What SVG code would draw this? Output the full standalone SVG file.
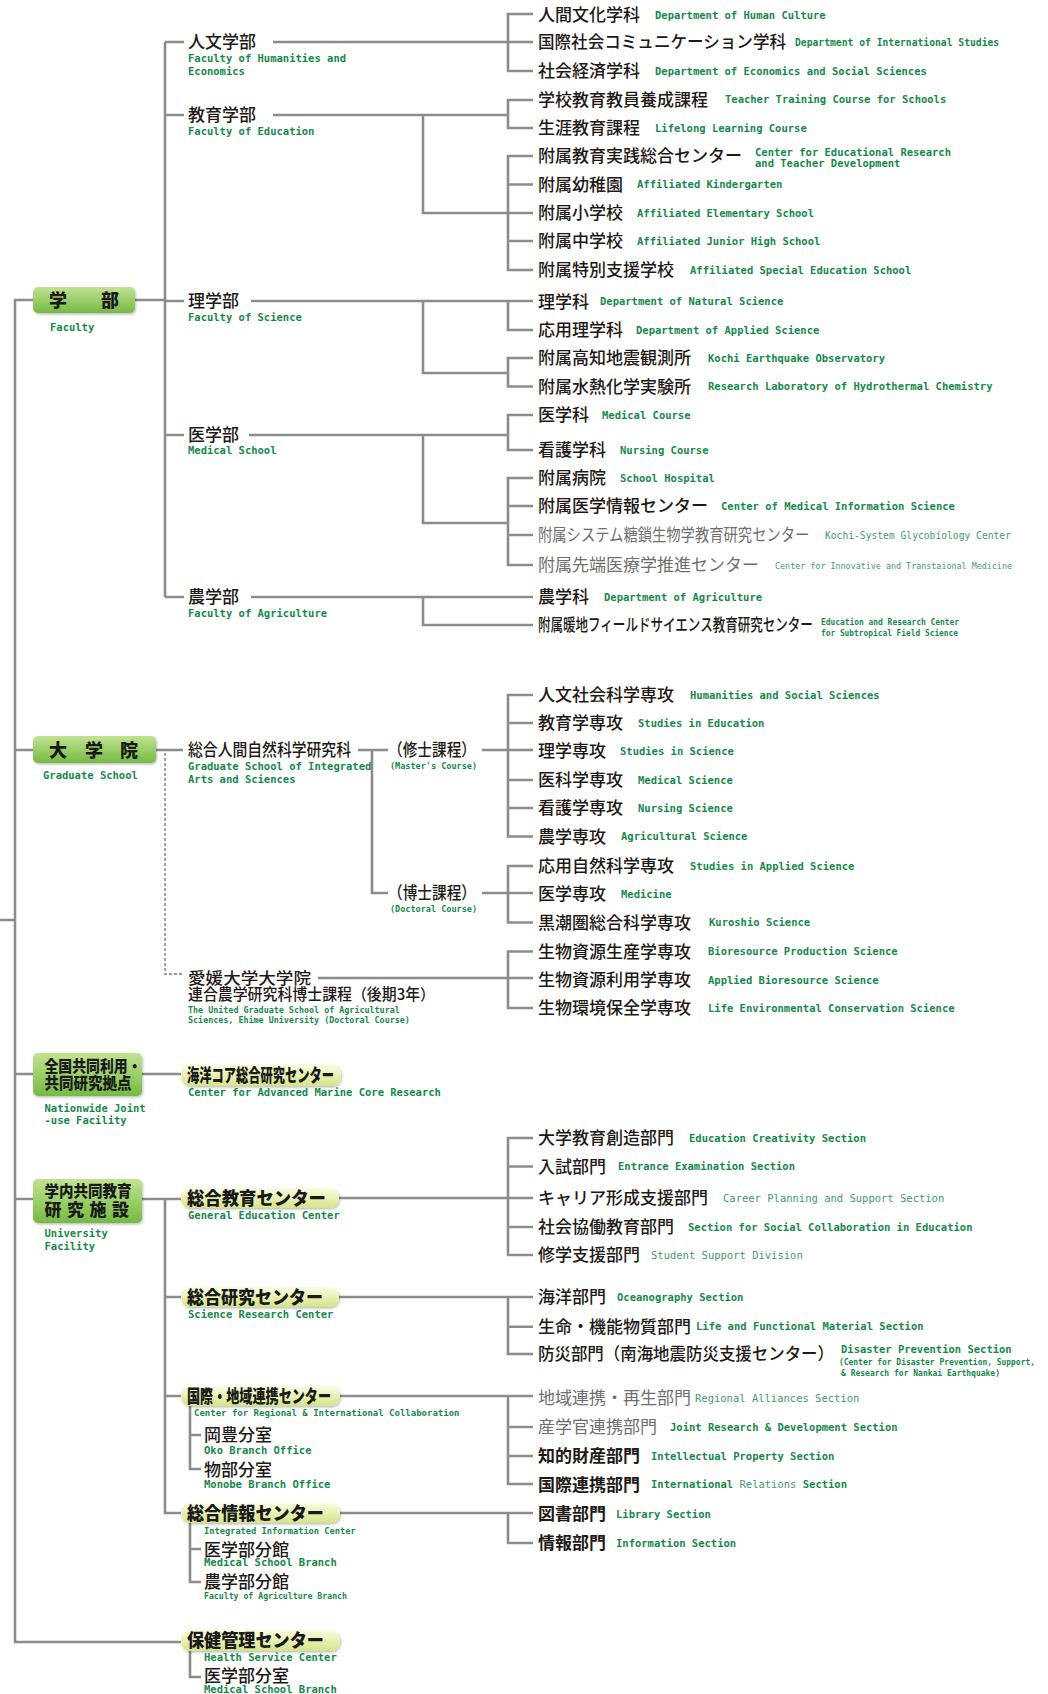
<svg xmlns="http://www.w3.org/2000/svg" width="1048" height="1694" viewBox="0 0 1048 1694">
<defs>
<linearGradient id="gg" x1="0" y1="0" x2="0" y2="1"><stop offset="0" stop-color="#c2e391"/><stop offset="1" stop-color="#74ba43"/></linearGradient>
<linearGradient id="pg" x1="0" y1="0" x2="0" y2="1"><stop offset="0" stop-color="#fbfce2"/><stop offset="1" stop-color="#d5e486"/></linearGradient>
<filter id="sh" x="-10%" y="-20%" width="120%" height="150%"><feDropShadow dx="1" dy="1.5" stdDeviation="1" flood-color="#000" flood-opacity="0.25"/></filter>
<style>
.ln{stroke:#8c8c8c;stroke-width:2.6;fill:none}
.dash{stroke:#9a9a9a;stroke-width:1.8;stroke-dasharray:3 2;fill:none}
.jp{font-family:"Noto Sans CJK JP","Noto Sans CJK SC",sans-serif;font-size:17px;fill:#231815;font-weight:500}
.jb{font-weight:700}
.jl{fill:#6e6e6e;font-weight:400}
.bx{font-family:"Noto Sans CJK JP",sans-serif;font-size:18px;fill:#1a1a1a;font-weight:900}
.en{font-family:"DejaVu Sans Mono","Liberation Mono",monospace;font-size:10.5px;font-weight:bold;fill:#16894c}
.el{font-weight:normal;fill:#3f9a6e}
.gbox{fill:url(#gg);filter:url(#sh)}
.pill{fill:url(#pg);filter:url(#sh)}
</style>
</defs>
<rect width="1048" height="1694" fill="#fff"/>

<g id="connectors">
<path class="ln" d="M0 920H15M33 300H15V1642H181M135 300H165M165 42V597M165 42H184M165 115H184M165 301H184M165 435H184M165 597H184
M273 42H533M533 14H508V71H533
M273 115H508M533 100H508V128H533M423 115V213H508M533 156H508V270H533M508 184.5H533M508 213H533M508 241H533
M251 301H533M508 301V330H533M423 301V373H508M533 358H508V386.5H533
M249 435H508M533 415H508V450H533M423 435V523H508M533 478H508V565H533M508 506H533M508 535H533
M251 597H533M423 597V625H533
M15 750H33M156 750H183M358 750H388M372 750V893H388M482 750H533M533 695H508V836.5H533M508 723H533M508 780H533M508 808H533
M482 893H533M533 866H508V922.5H533
M318 978H533M533 951.5H508V1008H533
M15 1074H33M142 1074H181
M15 1199H33M142 1199H181M165 1199V1513H181M165 1297H181M165 1396H181
M339 1198H533M533 1138H508V1255H533M508 1166.5H533M508 1227H533
M339 1297H533M508 1297V1354H533M508 1326.7H533
M340 1396H533M508 1396V1484H533M508 1427H533M508 1456H533
M340 1513H533M508 1513V1543H533
M190 1406V1469H201M190 1435H201
M190 1523V1582H201M190 1549H201
M190 1651V1677H201"/>
<path class="dash" d="M165 753V974H183"/>
</g>

<g id="n-gakubu">
<rect class="gbox" x="33" y="287" width="102" height="26" rx="5"/>
<text class="bx" x="49 101" y="306.5">学部</text>
<text class="en" x="50" y="330.5">Faculty</text>
</g>
<g id="n-daigakuin">
<rect class="gbox" x="33" y="736" width="123" height="27" rx="5"/>
<text class="bx" x="49 85 120" y="756.5">大学院</text>
<text class="en" x="43" y="779">Graduate School</text>
</g>
<g id="n-zenkoku">
<rect class="gbox" x="33" y="1053" width="109" height="43" rx="5"/>
<text class="bx" x="44.5" y="1072" style="font-size:16px" textLength="97" lengthAdjust="spacingAndGlyphs">全国共同利用・</text>
<text class="bx" x="44.5" y="1089" style="font-size:16px" textLength="87" lengthAdjust="spacingAndGlyphs">共同研究拠点</text>
<text class="en" x="44.5" y="1112">Nationwide Joint</text>
<text class="en" x="44.5" y="1124">-use Facility</text>
</g>
<g id="n-gakunai">
<rect class="gbox" x="33" y="1179" width="109" height="44" rx="5"/>
<text class="bx" x="44.5" y="1197" style="font-size:16px" textLength="87" lengthAdjust="spacingAndGlyphs">学内共同教育</text>
<text class="bx" x="44.5 67 89.5 112" y="1216" style="font-size:17px">研究施設</text>
<text class="en" x="44.5" y="1237">University</text>
<text class="en" x="44.5" y="1249.5">Facility</text>
</g>

<g id="f-jinbun"><text class="jp" x="188" y="48">人文学部</text><text class="en" x="188" y="62">Faculty of Humanities and</text><text class="en" x="188" y="75">Economics</text></g>
<g id="f-kyoiku"><text class="jp" x="188" y="121">教育学部</text><text class="en" x="188" y="135">Faculty of Education</text></g>
<g id="f-ri"><text class="jp" x="188" y="307">理学部</text><text class="en" x="188" y="320.5">Faculty of Science</text></g>
<g id="f-i"><text class="jp" x="188" y="441">医学部</text><text class="en" x="188" y="453.5">Medical School</text></g>
<g id="f-no"><text class="jp" x="188" y="603">農学部</text><text class="en" x="188" y="616.5">Faculty of Agriculture</text></g>

<g id="r01"><text class="jp" x="538" y="21">人間文化学科</text><text class="en" x="655" y="18.5">Department of Human Culture</text></g>
<g id="r02"><text class="jp" x="538" y="48" textLength="248" lengthAdjust="spacingAndGlyphs">国際社会コミュニケーション学科</text><text class="en" x="795" y="46" style="font-size:9.7px">Department of International Studies</text></g>
<g id="r03"><text class="jp" x="538" y="77">社会経済学科</text><text class="en" x="655" y="74.5">Department of Economics and Social Sciences</text></g>
<g id="r04"><text class="jp" x="538" y="105.5">学校教育教員養成課程</text><text class="en" x="725" y="103">Teacher Training Course for Schools</text></g>
<g id="r05"><text class="jp" x="538" y="134">生涯教育課程</text><text class="en" x="655" y="131.5">Lifelong Learning Course</text></g>
<g id="r06"><text class="jp" x="538" y="162">附属教育実践総合センター</text><text class="en" x="755" y="155.5">Center for Educational Research</text><text class="en" x="755" y="167">and Teacher Development</text></g>
<g id="r07"><text class="jp" x="538" y="190.5">附属幼稚園</text><text class="en" x="637" y="188">Affiliated Kindergarten</text></g>
<g id="r08"><text class="jp" x="538" y="219">附属小学校</text><text class="en" x="637" y="216.5">Affiliated Elementary School</text></g>
<g id="r09"><text class="jp" x="538" y="247">附属中学校</text><text class="en" x="637" y="244.5">Affiliated Junior High School</text></g>
<g id="r10"><text class="jp" x="538" y="276">附属特別支援学校</text><text class="en" x="690" y="273.5">Affiliated Special Education School</text></g>
<g id="r11"><text class="jp" x="538" y="307.5">理学科</text><text class="en" x="600" y="305">Department of Natural Science</text></g>
<g id="r12"><text class="jp" x="538" y="336">応用理学科</text><text class="en" x="636" y="333.5">Department of Applied Science</text></g>
<g id="r13"><text class="jp" x="538" y="364">附属高知地震観測所</text><text class="en" x="708" y="361.5">Kochi Earthquake Observatory</text></g>
<g id="r14"><text class="jp" x="538" y="392.5">附属水熱化学実験所</text><text class="en" x="708" y="390">Research Laboratory of Hydrothermal Chemistry</text></g>
<g id="r15"><text class="jp" x="538" y="421">医学科</text><text class="en" x="602" y="418.5">Medical Course</text></g>
<g id="r16"><text class="jp" x="538" y="456">看護学科</text><text class="en" x="620" y="453.5">Nursing Course</text></g>
<g id="r17"><text class="jp" x="538" y="484">附属病院</text><text class="en" x="620" y="481.5">School Hospital</text></g>
<g id="r18"><text class="jp" x="538" y="512">附属医学情報センター</text><text class="en" x="721" y="509.5">Center of Medical Information Science</text></g>
<g id="r19"><text class="jp jl" transform="translate(538 541) scale(0.842 1)">附属システム糖鎖生物学教育研究センター</text><text class="en el" x="825" y="538.5" style="font-size:9.6px" textLength="186" lengthAdjust="spacingAndGlyphs">Kochi-System Glycobiology Center</text></g>
<g id="r20"><text class="jp jl" x="538" y="571">附属先端医療学推進センター</text><text class="en el" x="775" y="568.5" style="font-size:8.6px" textLength="237" lengthAdjust="spacingAndGlyphs">Center for Innovative and Transtaional Medicine</text></g>
<g id="r21"><text class="jp" x="538" y="603">農学科</text><text class="en" x="604" y="600.5">Department of Agriculture</text></g>
<g id="r22"><text class="jp" transform="translate(538 631) scale(0.737 1)">附属暖地フィールドサイエンス教育研究センター</text><text class="en" x="821" y="624.5" style="font-size:8.5px" textLength="138" lengthAdjust="spacingAndGlyphs">Education and Research Center</text><text class="en" x="821" y="636" style="font-size:8.5px" textLength="137" lengthAdjust="spacingAndGlyphs">for Subtropical Field Science</text></g>

<g id="g-sogo"><text class="jp" x="188" y="756" textLength="163" lengthAdjust="spacingAndGlyphs">総合人間自然科学研究科</text><text class="en" x="188" y="769.5">Graduate School of Integrated</text><text class="en" x="188" y="783">Arts and Sciences</text></g>
<g id="g-master"><text class="jp" x="388" y="756" textLength="88" lengthAdjust="spacingAndGlyphs">（修士課程）</text><text class="en" x="390" y="769" style="font-size:8.5px">(Master's Course)</text></g>
<g id="g-doctor"><text class="jp" x="388" y="899" textLength="88" lengthAdjust="spacingAndGlyphs">（博士課程）</text><text class="en" x="390" y="911.5" style="font-size:8.5px">(Doctoral Course)</text></g>
<g id="g-ehime"><text class="jp" x="188" y="983.5" style="font-size:15.5px" textLength="123" lengthAdjust="spacingAndGlyphs">愛媛大学大学院</text><text class="jp" x="188" y="999.5" style="font-size:15.5px" textLength="247" lengthAdjust="spacingAndGlyphs">連合農学研究科博士課程（後期3年）</text><text class="en" x="188" y="1013" style="font-size:8.4px">The United Graduate School of Agricultural</text><text class="en" x="188" y="1022.5" style="font-size:8.4px">Sciences, Ehime University  (Doctoral Course)</text></g>

<g id="r23"><text class="jp" x="538" y="701">人文社会科学専攻</text><text class="en" x="690" y="698.5">Humanities and Social Sciences</text></g>
<g id="r24"><text class="jp" x="538" y="729">教育学専攻</text><text class="en" x="638" y="726.5">Studies in Education</text></g>
<g id="r25"><text class="jp" x="538" y="757">理学専攻</text><text class="en" x="620" y="754.5">Studies in Science</text></g>
<g id="r26"><text class="jp" x="538" y="786">医科学専攻</text><text class="en" x="638" y="783.5">Medical Science</text></g>
<g id="r27"><text class="jp" x="538" y="814">看護学専攻</text><text class="en" x="638" y="811.5">Nursing Science</text></g>
<g id="r28"><text class="jp" x="538" y="842.5">農学専攻</text><text class="en" x="621" y="840">Agricultural Science</text></g>
<g id="r29"><text class="jp" x="538" y="872">応用自然科学専攻</text><text class="en" x="690" y="869.5">Studies in Applied Science</text></g>
<g id="r30"><text class="jp" x="538" y="900">医学専攻</text><text class="en" x="621" y="897.5">Medicine</text></g>
<g id="r31"><text class="jp" x="538" y="928.5">黒潮圏総合科学専攻</text><text class="en" x="709" y="926">Kuroshio Science</text></g>
<g id="r32"><text class="jp" x="538" y="957.5">生物資源生産学専攻</text><text class="en" x="708" y="955">Bioresource Production Science</text></g>
<g id="r33"><text class="jp" x="538" y="986">生物資源利用学専攻</text><text class="en" x="708" y="983.5">Applied Bioresource Science</text></g>
<g id="r34"><text class="jp" x="538" y="1014">生物環境保全学専攻</text><text class="en" x="708" y="1011.5">Life Environmental Conservation Science</text></g>

<g id="c-kaiyo"><rect class="pill" x="181" y="1064" width="160" height="22" rx="9"/><text class="bx" x="187" y="1081.5" textLength="147" lengthAdjust="spacingAndGlyphs">海洋コア総合研究センター</text><text class="en" x="188" y="1095.5">Center for Advanced Marine Core Research</text></g>
<g id="c-kyoiku"><rect class="pill" x="181" y="1188" width="158" height="20" rx="9"/><text class="bx" x="187" y="1204.5" textLength="139" lengthAdjust="spacingAndGlyphs">総合教育センター</text><text class="en" x="188" y="1218.5">General Education Center</text></g>
<g id="c-kenkyu"><rect class="pill" x="181" y="1287" width="158" height="20" rx="9"/><text class="bx" x="187" y="1303.5" textLength="136" lengthAdjust="spacingAndGlyphs">総合研究センター</text><text class="en" x="188" y="1317.5">Science Research Center</text></g>
<g id="c-renkei"><rect class="pill" x="181" y="1386" width="159" height="20" rx="9"/><text class="bx" x="187" y="1402.5" textLength="144" lengthAdjust="spacingAndGlyphs">国際・地域連携センター</text><text class="en" x="194" y="1416" style="font-size:9px">Center for Regional &amp; International Collaboration</text></g>
<g id="c-oko"><text class="jp" x="204" y="1441">岡豊分室</text><text class="en" x="204" y="1453.5">Oko Branch Office</text></g>
<g id="c-monobe"><text class="jp" x="204" y="1475.5">物部分室</text><text class="en" x="204" y="1487.5">Monobe Branch Office</text></g>
<g id="c-joho"><rect class="pill" x="181" y="1503" width="159" height="20" rx="9"/><text class="bx" x="187" y="1519.5" textLength="137" lengthAdjust="spacingAndGlyphs">総合情報センター</text><text class="en" x="204" y="1534" style="font-size:8.7px">Integrated Information Center</text></g>
<g id="c-joho-i"><text class="jp" x="204" y="1555.5">医学部分館</text><text class="en" x="204" y="1566">Medical School Branch</text></g>
<g id="c-joho-no"><text class="jp" x="204" y="1588">農学部分館</text><text class="en" x="204" y="1599" style="font-size:8.2px">Faculty of Agriculture Branch</text></g>
<g id="c-hoken"><rect class="pill" x="181" y="1630" width="159" height="21" rx="9"/><text class="bx" x="187" y="1647" textLength="137" lengthAdjust="spacingAndGlyphs">保健管理センター</text><text class="en" x="204" y="1661">Health Service Center</text></g>
<g id="c-hoken-i"><text class="jp" x="204" y="1682">医学部分室</text><text class="en" x="204" y="1693">Medical School Branch</text></g>

<g id="r35"><text class="jp" x="538" y="1144">大学教育創造部門</text><text class="en" x="689" y="1141.5">Education Creativity Section</text></g>
<g id="r36"><text class="jp" x="538" y="1172.5">入試部門</text><text class="en" x="618" y="1170">Entrance Examination Section</text></g>
<g id="r37"><text class="jp" x="538" y="1204">キャリア形成支援部門</text><text class="en el" x="723" y="1201.5">Career Planning and Support Section</text></g>
<g id="r38"><text class="jp" x="538" y="1233">社会協働教育部門</text><text class="en" x="688" y="1230.5">Section for Social Collaboration in Education</text></g>
<g id="r39"><text class="jp" x="538" y="1261">修学支援部門</text><text class="en el" x="651" y="1258.5">Student Support Division</text></g>
<g id="r40"><text class="jp" x="538" y="1303">海洋部門</text><text class="en" x="617" y="1301">Oceanography Section</text></g>
<g id="r41"><text class="jp" x="538" y="1332.7">生命・機能物質部門</text><text class="en" x="696" y="1330">Life and Functional Material Section</text></g>
<g id="r42"><text class="jp" x="538" y="1360" textLength="296" lengthAdjust="spacingAndGlyphs">防災部門（南海地震防災支援センター）</text><text class="en" x="841" y="1352.5">Disaster Prevention Section</text><text class="en" x="839" y="1364.5" style="font-size:8.2px" textLength="196" lengthAdjust="spacingAndGlyphs">(Center for Disaster Prevention, Support,</text><text class="en" x="841" y="1375.5" style="font-size:8.2px" textLength="159" lengthAdjust="spacingAndGlyphs">&amp; Research for Nankai Earthquake)</text></g>
<g id="r43"><text class="jp jl" x="538" y="1404">地域連携・再生部門</text><text class="en el" x="695" y="1401.5">Regional Alliances Section</text></g>
<g id="r44"><text class="jp jl" x="538" y="1433">産学官連携部門</text><text class="en" x="670" y="1430.5">Joint Research &amp; Development Section</text></g>
<g id="r45"><text class="jp jb" x="538" y="1462">知的財産部門</text><text class="en" x="651" y="1459.5">Intellectual Property Section</text></g>
<g id="r46"><text class="jp jb" x="538" y="1490.5">国際連携部門</text><text class="en" x="651" y="1488">International <tspan class="el">Relations</tspan> Section</text></g>
<g id="r47"><text class="jp jb" x="538" y="1520">図書部門</text><text class="en" x="616" y="1517.5">Library Section</text></g>
<g id="r48"><text class="jp jb" x="538" y="1549">情報部門</text><text class="en" x="616" y="1546.5">Information Section</text></g>
</svg>
